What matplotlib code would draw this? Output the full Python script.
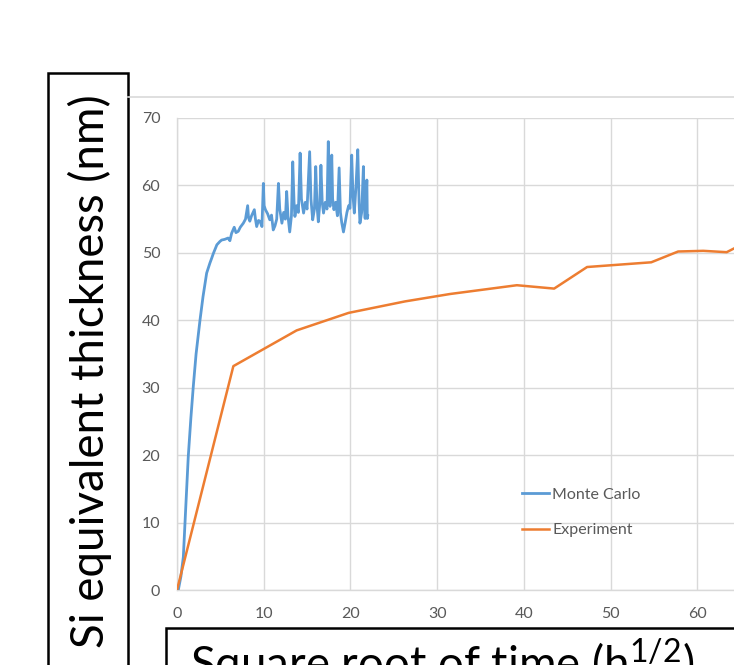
import matplotlib
matplotlib.use("Agg")
import matplotlib.pyplot as plt
from matplotlib.lines import Line2D
from matplotlib.patches import Rectangle

plt.rcParams['font.family'] = ['Lato', 'DejaVu Sans']
plt.rcParams['mathtext.fontset'] = 'custom'
plt.rcParams['mathtext.rm'] = 'Lato'

# Monte Carlo
mc_x = [0.0, 0.15, 0.45, 0.73, 1.0, 1.3, 1.6, 1.88, 2.2, 2.65, 3.0, 3.42, 3.8, 4.0, 4.19,
        4.6, 4.96, 5.15, 5.5, 5.9, 6.1, 6.3, 6.6, 6.8, 7.07, 7.3, 7.65, 7.9, 8.15, 8.25,
        8.4, 8.6, 8.92, 9.05, 9.19, 9.4, 9.57, 9.8, 9.96, 10.05, 10.2, 10.45, 10.7, 10.9,
        11.1, 11.3, 11.5, 11.7, 11.85, 12.1, 12.3, 12.5, 12.65, 12.8, 13.0, 13.2, 13.35,
        13.5, 13.6, 13.8, 14.0, 14.2, 14.35, 14.6, 14.8, 15.0, 15.3, 15.45, 15.65, 15.85,
        16.0, 16.15, 16.3, 16.45, 16.6, 16.75, 16.9, 17.1, 17.3, 17.45, 17.55, 17.65, 17.85,
        17.95, 18.1, 18.3, 18.5, 18.7, 18.85, 19.0, 19.2, 19.4, 19.6, 19.8, 19.95, 20.15,
        20.3, 20.45, 20.65, 20.85, 21.0, 21.1, 21.3, 21.5, 21.6, 21.7, 21.9, 21.95, 22.0]
mc_y = [0.0, 0.0, 2.0, 4.9, 12.0, 19.8, 25.5, 30.2, 35.0, 40.0, 43.5, 47.0, 48.5, 49.2, 49.9,
        51.2, 51.7, 51.9, 52.0, 52.2, 51.8, 52.9, 53.8, 53.0, 53.2, 53.8, 54.4, 55.0, 57.0, 55.2,
        54.7, 55.5, 56.4, 55.0, 53.9, 54.8, 54.7, 53.9, 60.3, 57.0, 56.4, 55.8, 54.9, 55.6,
        53.4, 54.0, 55.0, 60.3, 56.5, 54.4, 56.0, 55.0, 59.1, 55.5, 53.1, 55.5, 63.5,
        57.5, 55.4, 57.0, 56.0, 64.8, 58.0, 55.9, 57.5, 56.5, 65.0, 58.0, 54.9, 56.5,
        62.8, 57.0, 54.6, 57.0, 63.0, 57.5, 55.9, 57.5, 56.5, 66.5, 58.5, 56.9, 64.5,
        58.0, 56.4, 57.5, 55.5, 62.6, 56.0, 54.5, 53.1, 54.5, 56.0, 57.0, 56.6, 64.5,
        58.5, 55.9, 60.0, 65.3, 57.5, 54.4, 56.0, 62.8, 57.0, 55.1, 60.8, 55.1, 55.5]

# Experiment
exp_x = [0, 6.5, 13.8, 19.8, 26.3, 31.5, 39.2, 43.5, 47.3, 54.7, 57.8, 60.7, 63.4, 66.0]
exp_y = [0, 33.2, 38.5, 41.1, 42.8, 43.9, 45.2, 44.7, 47.9, 48.6, 50.2, 50.3, 50.1, 51.8]

y_ticks = [0, 10, 20, 30, 40, 50, 60, 70]
x_ticks = [0, 10, 20, 30, 40, 50, 60]

W, H = 734, 665
fig = plt.figure(figsize=(W / 100, H / 100), dpi=100)
ax = fig.add_axes([177 / W, 1 - 590 / H, 1 - 177 / W, (590 - 118) / H])

ax.plot(mc_x, mc_y, color="#5b9bd5", lw=2.0, label="Monte Carlo", zorder=3)
ax.plot(exp_x, exp_y, color="#ed7d31", lw=1.8, label="Experiment", zorder=3)

ax.set_xlim(0, (W - 177) / 8.67)
ax.set_ylim(0, 70)
ax.set_xticks(x_ticks)
ax.set_yticks(y_ticks)
ax.grid(True, color="#d9d9d9", lw=1.0)
ax.set_axisbelow(True)
for s in ["top", "right"]:
    ax.spines[s].set_visible(False)
for s in ["left", "bottom"]:
    ax.spines[s].set_color("#d9d9d9")
    ax.spines[s].set_linewidth(1.0)
ax.tick_params(length=0, labelsize=11.5, labelcolor="#595959")
ax.tick_params(axis="y", pad=12)
ax.tick_params(axis="x", pad=12)

leg = ax.legend(loc="center left", bbox_to_anchor=((521.7 - 177) / (W - 177), (590 - 512.5) / 472),
                frameon=False, fontsize=11.5, labelcolor="#595959", handlelength=1.7,
                handletextpad=0.2, labelspacing=1.35, borderpad=0, borderaxespad=0)

# chart area border
fig.add_artist(Line2D([128 / W, 1], [1 - 97 / H, 1 - 97 / H], color="#d9d9d9", lw=1.2))

# boxed axis titles
fig.add_artist(Rectangle((48 / W, -0.05), 80 / W, 1 - 73 / H + 0.05, fill=False,
                         edgecolor="black", lw=1.8))
fig.add_artist(Rectangle((166 / W, -0.05), 1, 1 - 628 / H + 0.05, fill=False,
                         edgecolor="black", lw=1.8))

ylab = fig.text(90 / W, 1 - 371 / H, "Si equivalent thickness (nm)", rotation=90,
                ha="center", va="center", fontsize=26, color="black")
xlab = fig.text(190 / W, 1 - 680 / H, "Square root of time (h$^{\\mathregular{1/2}}$)",
                ha="left", va="baseline", fontsize=26, color="black")

# fit the y title length to the picture (about 553 px)
r = fig.canvas.get_renderer()
bb = ylab.get_window_extent(r)
fs = 26 * 553 / bb.height
ylab.set_fontsize(fs)
xlab.set_fontsize(fs)

fig.savefig("out.png", dpi=100)
